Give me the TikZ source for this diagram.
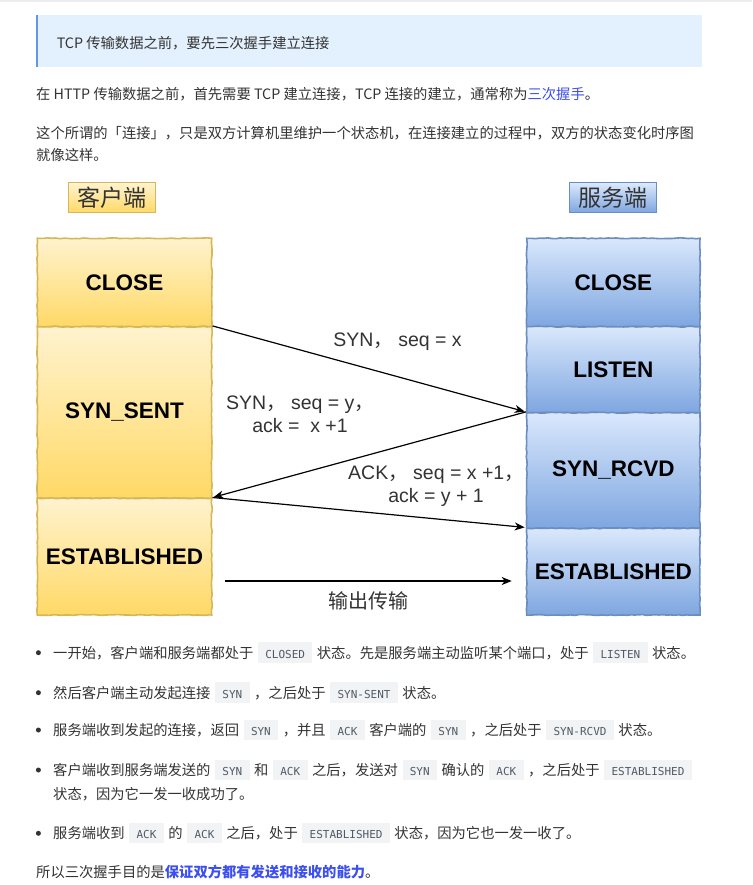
\documentclass[tikz,border=0pt]{standalone}
\usepackage{fontspec}
\setmainfont{Noto Sans CJK SC}
\newfontfamily\labf{Liberation Sans}
\newfontfamily\codef{DejaVu Sans Mono}
\newfontfamily\cjkf{Noto Sans CJK SC}
\usetikzlibrary{arrows.meta,decorations.pathmorphing}
\definecolor{txt}{HTML}{333333}
\definecolor{link}{HTML}{3C4FF0}
\definecolor{quotebg}{HTML}{E3F0FD}
\definecolor{quotebar}{HTML}{6495ED}
\definecolor{codebg}{HTML}{F1F3F4}
\definecolor{codefg}{HTML}{505A66}
\definecolor{ytop}{HTML}{FFF3CF}
\definecolor{ybot}{HTML}{FFD966}
\definecolor{yline}{HTML}{D6B656}
\definecolor{btop}{HTML}{DAE8FC}
\definecolor{bbot}{HTML}{7EA6E0}
\definecolor{bline}{HTML}{6C8EBF}
\newcommand\cb[1]{\hspace{4.6pt}{\setlength{\fboxsep}{0pt}\colorbox{codebg}{\rule[-4.6pt]{0pt}{20.4pt}\hspace{7.3pt}{\codef\fontsize{11}{13}\selectfont\color{codefg}#1}\hspace{7.3pt}}}\hspace{4.6pt}}
\begin{document}
\begin{tikzpicture}[x=1pt,y=-1pt,
  pt/.style={anchor=base west,inner sep=0pt,text=txt,font=\fontsize{14.3}{17}\selectfont},
  dot/.style={circle,fill=txt,inner sep=0pt,minimum size=5pt},
  sk/.style={decorate,decoration={random steps,segment length=4pt,amplitude=0.45pt}},
  ybox/.style={sk,draw=yline,line width=1.6pt,top color=ytop,bottom color=ybot,minimum width=174.4pt,inner sep=0pt,font=\labf\bfseries\fontsize{22.5}{26}\selectfont},
  bbox/.style={sk,draw=bline,line width=1.6pt,top color=btop,bottom color=bbot,minimum width=173.3pt,inner sep=0pt,font=\labf\bfseries\fontsize{22.5}{26}\selectfont},
  ytag/.style={draw=yline,line width=1pt,top color=ytop,bottom color=ybot,minimum width=87.7pt,minimum height=29.7pt,inner sep=0pt,text=txt,font=\fontsize{23}{26}\selectfont},
  btag/.style={draw=bline,line width=1pt,top color=btop,bottom color=bbot,minimum width=87.4pt,minimum height=29.7pt,inner sep=0pt,text=txt,font=\fontsize{23}{26}\selectfont},
  msg/.style={-{Stealth[length=10pt,width=8pt,inset=3pt]},line width=1.2pt,black},
  mlab/.style={inner sep=0pt,align=center,text=txt,font=\labf\fontsize{19.5}{22.7}\selectfont}
]
\pgfmathsetseed{7}
\useasboundingbox (0,0) rectangle (752,885);
\fill[white] (0,0) rectangle (752,885);
\draw[line width=2pt,black!7] (0,1) -- (752,1);

% blockquote
\fill[quotebg] (36,15) rectangle (701.7,66.7);
\fill[quotebar] (36,15) rectangle (38,66.7);
\node[pt] (q) at (56.6,48.7) {TCP 传输数据之前，要先三次握手建立连接};

\node[pt] (p1) at (36,99.7) {在 HTTP 传输数据之前，首先需要 TCP 建立连接，TCP 连接的建立，通常称为{\color{link}三次握手}。};
\node[pt] (p2a) at (36,138.7) {这个所谓的「连接」，只是双方计算机里维护一个状态机，在连接建立的过程中，双方的状态变化时序图};
\node[pt] (p2b) at (36,160.9) {就像这样。};

% diagram tags
\node[ytag] (ctag) at (111.85,197.85) {客户端};
\node[btag] (stag) at (613,197.85) {服务端};

% client column
\node[ybox,minimum height=88.4pt] (cClose) at (124.5,282.5) {CLOSE};
\node[ybox,minimum height=171.6pt] (cSent) at (124.5,412.5) {SYN\_SENT};
\node[ybox,minimum height=116.7pt] (cEst) at (124.5,556.65) {ESTABLISHED};

% server column
\node[bbox,minimum height=88.4pt] (sClose) at (613.35,282.5) {CLOSE};
\node[bbox,minimum height=86pt] (sListen) at (613.35,369.7) {LISTEN};
\node[bbox,minimum height=115.6pt] (sRcvd) at (613.35,470.5) {SYN\_RCVD};
\node[bbox,minimum height=86.7pt] (sEst) at (613.35,571.65) {ESTABLISHED};

% messages
\draw[msg,shorten >=1.2pt] (cSent.north east) -- (sRcvd.north west);
\draw[msg,shorten >=1pt] (sRcvd.north west) -- (cEst.north east);
\draw[msg,shorten >=1.2pt] (cEst.north east) -- (sEst.north west);
\coordinate (o1) at (225,581);
\coordinate (o2) at (511.7,581);
\draw[msg] (o1) -- (o2);

\node[mlab] (l1) at (397.5,342) {SYN{\cjkf ，} seq = x};
\node[mlab] (l2) at (300,414.3) {SYN{\cjkf ，} seq = y{\cjkf ，}\\ack =\ \ x +1};
\node[mlab] (l3) at (436,486.3) {ACK{\cjkf ，} seq = x +1{\cjkf ，}\\ack = y + 1};
\node[inner sep=0pt,text=txt,font=\fontsize{20}{24}\selectfont] (l4) at (368,601) {输出传输};

% bullets
\node[dot] (d1) at (38.4,652.7) {};
\node[pt] (b1) at (53,658.1) {一开始，客户端和服务端都处于\cb{CLOSED}状态。先是服务端主动监听某个端口，处于\cb{LISTEN}状态。};
\node[dot] (d2) at (38.4,692.7) {};
\node[pt] (b2) at (53,698.1) {然后客户端主动发起连接\cb{SYN}，之后处于\cb{SYN-SENT}状态。};
\node[dot] (d3) at (38.4,730) {};
\node[pt] (b3) at (53,735.4) {服务端收到发起的连接，返回\cb{SYN}，并且\cb{ACK}客户端的\cb{SYN}，之后处于\cb{SYN-RCVD}状态。};
\node[dot] (d4) at (38.4,770) {};
\node[pt] (b4) at (53,775.4) {客户端收到服务端发送的\cb{SYN}和\cb{ACK}之后，发送对\cb{SYN}确认的\cb{ACK}，之后处于\cb{ESTABLISHED}};
\node[pt] (b4b) at (53,799.7) {状态，因为它一发一收成功了。};
\node[dot] (d5) at (38.4,833.3) {};
\node[pt] (b5) at (53,838.7) {服务端收到\cb{ACK}的\cb{ACK}之后，处于\cb{ESTABLISHED}状态，因为它也一发一收了。};
\node[pt] (fin) at (36,877.1) {所以三次握手目的是{\bfseries\color{link}保证双方都有发送和接收的能力}。};
\end{tikzpicture}
\end{document}
